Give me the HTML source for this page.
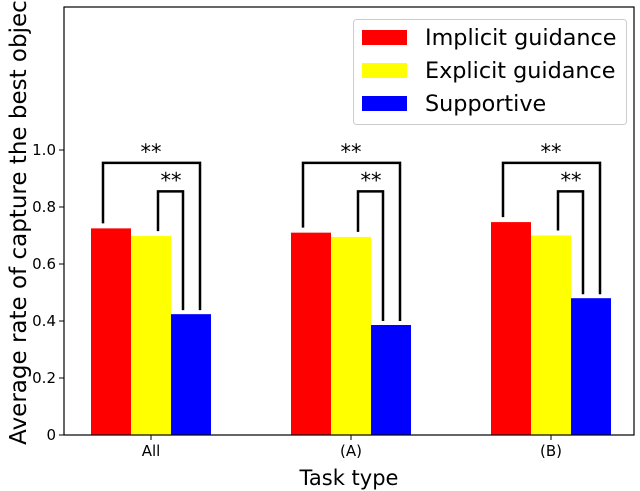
<!DOCTYPE html>
<html><head><meta charset="utf-8"><style>
body{margin:0;background:#fff;}
svg{display:block;font-family:"DejaVu Sans","Liberation Sans",sans-serif;}
</style></head><body>
<svg id="chart" width="640" height="491" viewBox="0 0 640 491" xmlns="http://www.w3.org/2000/svg">
<g id="bars"></g>
<g id="sig"></g>
<g id="axes"></g>
<g>
<rect x="353.5" y="19.5" width="273" height="105" rx="3" fill="#fff" stroke="#ccc" stroke-width="1"/>
<rect x="362" y="30" width="45" height="15" fill="#ff0000"/>
<text x="425" y="45" font-size="22.3">Implicit guidance</text>
<rect x="362" y="63" width="45" height="15" fill="#ffff00"/>
<text x="425" y="78" font-size="22.3">Explicit guidance</text>
<rect x="362" y="96" width="45" height="15" fill="#0000ff"/>
<text x="425" y="111" font-size="22.3">Supportive</text>
</g>
<text x="349" y="485" font-size="21" text-anchor="middle">Task type</text>
<text transform="translate(26,218) rotate(-90)" font-size="23" text-anchor="middle">Average rate of capture the best object</text>
</svg>
<script>
const categories = ["All", "(A)", "(B)"];
const implicitVals = [0.725, 0.71, 0.747];
const explicitVals = [0.698, 0.695, 0.70];
const supportiveVals = [0.424, 0.386, 0.48];
const yTicks = [0, 0.2, 0.4, 0.6, 0.8, 1.0];
const yTickLabels = ["0", "0.2", "0.4", "0.6", "0.8", "1.0"];
const outerLevel = 0.955, innerLevel = 0.855;

const NS = "http://www.w3.org/2000/svg";
const L = 64, R = 634, T = 7, B = 435;
const y = v => B - v * 285;
const x = i => 151 + i * 200;
const BW = 40;
function mk(tag, attrs, parent){const e=document.createElementNS(NS,tag);for(const k in attrs)e.setAttribute(k,attrs[k]);parent.appendChild(e);return e;}

const bars = document.getElementById('bars');
const series = [[implicitVals,"#ff0000","implicit"],[explicitVals,"#ffff00","explicit"],[supportiveVals,"#0000ff","supportive"]];
categories.forEach((c,i)=>{
  series.forEach((s,j)=>{
    const v=s[0][i];
    const r=mk('rect',{x:x(i)-60+j*BW,y:y(v),width:BW,height:B-y(v),fill:s[1]},bars);
    
    
  });
});

const sig = document.getElementById('sig');
categories.forEach((c,i)=>{
  const cx=x(i);
  const oy=y(outerLevel), iy=y(innerLevel);
  const p1=mk('polyline',{points:`${cx-48},${y(implicitVals[i])-5} ${cx-48},${oy} ${cx+49},${oy} ${cx+49},${y(supportiveVals[i])-4}`,fill:'none',stroke:'#000','stroke-width':2.5},sig);
  
  
  const p2=mk('polyline',{points:`${cx+7},${y(explicitVals[i])-5} ${cx+7},${iy} ${cx+32},${iy} ${cx+32},${y(supportiveVals[i])-4}`,fill:'none',stroke:'#000','stroke-width':2.5},sig);
  
  
  const t1=mk('text',{x:cx,y:oy-4,'font-size':21,'text-anchor':'middle'},sig);t1.textContent='**';
  
  
  const t2=mk('text',{x:cx+20,y:iy-4,'font-size':21,'text-anchor':'middle'},sig);t2.textContent='**';
  
  
});

const axes = document.getElementById('axes');
const fr=mk('rect',{x:L,y:T,width:R-L,height:B-T,fill:'none',stroke:'#000','stroke-width':1.2},axes);


yTicks.forEach((v,k)=>{
  const tk=mk('line',{x1:L-5,x2:L,y1:y(v),y2:y(v),stroke:'#000','stroke-width':1},axes);
  
  
  const t=mk('text',{x:L-8,y:y(v)+5,'font-size':15,'text-anchor':'end'},axes);t.textContent=yTickLabels[k];
  
  
});
categories.forEach((c,i)=>{
  const tk=mk('line',{x1:x(i),x2:x(i),y1:B,y2:B+5,stroke:'#000','stroke-width':1},axes);
  
  
  const t=mk('text',{x:x(i),y:B+21,'font-size':15,'text-anchor':'middle'},axes);t.textContent=c;
  
  
});
</script>
</body></html>
